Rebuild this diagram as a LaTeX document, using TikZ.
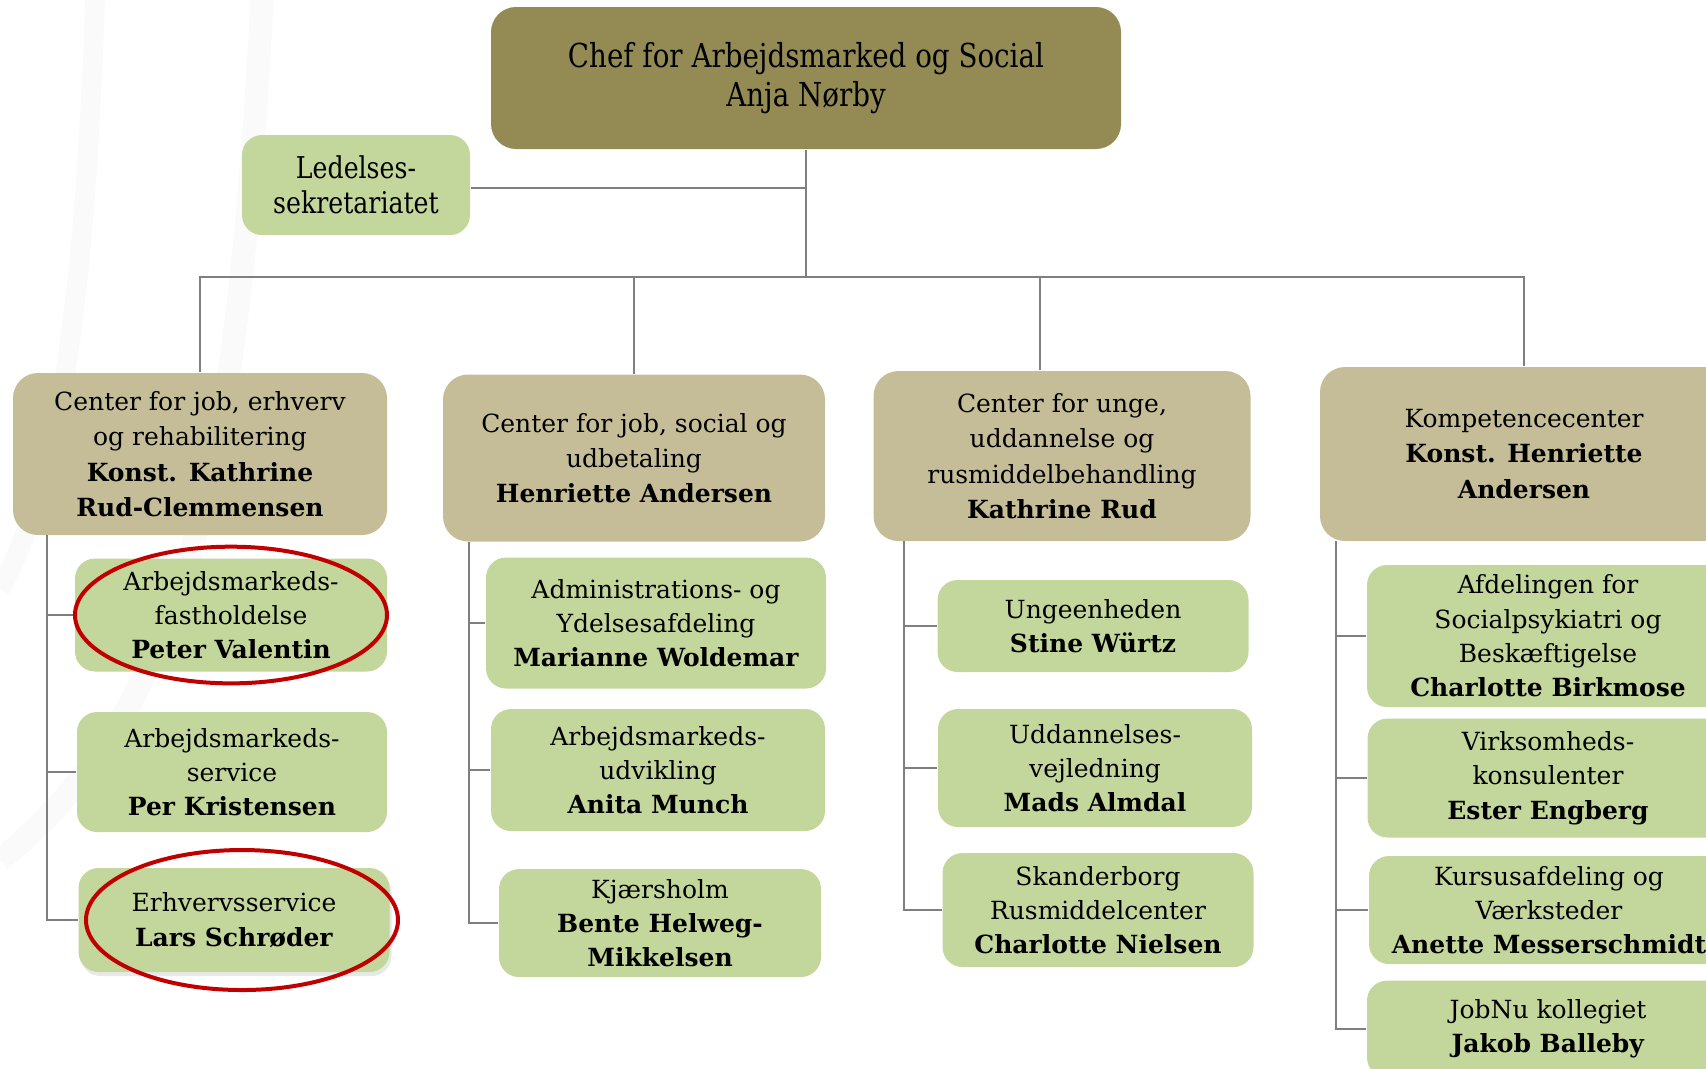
\documentclass[tikz,border=0pt]{standalone}
\usepackage{fontspec}
\setmainfont{DejaVu Serif}
\newfontfamily\chieffont{DejaVu Serif}[FakeStretch=0.84]
\usetikzlibrary{positioning,shadows}
\definecolor{chiefcol}{HTML}{948A54}
\definecolor{deptcol}{HTML}{C4BD97}
\definecolor{unitcol}{HTML}{C3D69B}
\definecolor{linecol}{HTML}{7F7F7F}
\definecolor{ringred}{HTML}{C00000}
\begin{document}
\begin{tikzpicture}[x=0.3pt, y=-0.3pt,
        chief/.style={rectangle, rounded corners=7.5pt, fill=chiefcol, align=center, inner sep=1pt, font=\chieffont\fontsize{9.9}{11.9}\selectfont},
        secr/.style={rectangle, rounded corners=6pt, fill=unitcol, align=center, inner sep=1pt, font=\chieffont\fontsize{9}{10.6}\selectfont},
        dept/.style={rectangle, rounded corners=7.5pt, fill=deptcol, align=center, inner sep=1pt, font=\fontsize{7.5}{10.6}\selectfont},
        unit/.style={rectangle, rounded corners=6pt, fill=unitcol, align=center, inner sep=1pt, font=\fontsize{7.5}{10.3}\selectfont},
        link/.style={draw=linecol, line width=0.6pt},
        ring/.style={draw=ringred, line width=1.2pt}]

        \useasboundingbox (0,0) rectangle (1706,1068);
        \clip (0,0) rectangle (1706,1068);

        % faint background marks
        \draw[gray!4, line width=6pt] (95,0) .. controls (85,300) and (60,480) .. (0,590);
        \draw[gray!4, line width=7pt] (262,0) .. controls (240,420) and (200,700) .. (0,860);

        % Top
        \node[chief, minimum width=189pt, minimum height=42.6pt] (chef) at (806,78) {Chef for Arbejdsmarked og Social\\Anja Nørby};
        \node[secr, minimum width=68.4pt, minimum height=30pt] (sekr) at (356,185) {Ledelses-\\sekretariatet};

        % Centres
        \node[dept, minimum width=112.2pt, minimum height=48.6pt] (job) at (200,454) {Center for job, erhverv\\og rehabilitering\\\textbf{Konst. Kathrine}\\\textbf{Rud-Clemmensen}};
        \node[dept, minimum width=114.6pt, minimum height=50.1pt] (social) at (634,458) {Center for job, social og\\udbetaling\\\textbf{Henriette Andersen}};
        \node[dept, minimum width=113.1pt, minimum height=51pt] (unge) at (1062,456) {Center for unge,\\uddannelse og\\rusmiddelbehandling\\\textbf{Kathrine Rud}};
        \node[dept, minimum width=122.4pt, minimum height=52.2pt] (komp) at (1524,454) {Kompetencecenter\\\textbf{Konst. Henriette}\\\textbf{Andersen}};

        % Units under job, erhverv og rehabilitering
        \node[unit, minimum width=93.6pt, minimum height=33.9pt] (fast) at (231,615) {Arbejdsmarkeds-\\fastholdelse\\\textbf{Peter Valentin}};
        \node[unit, minimum width=93pt, minimum height=36pt] (amservice) at (232,772) {Arbejdsmarkeds-\\service\\\textbf{Per Kristensen}};
        \node[unit, minimum width=93.3pt, minimum height=31.2pt, drop shadow={opacity=0.18, shadow xshift=0.6pt, shadow yshift=-1.2pt}] (erhverv) at (234,920) {Erhvervsservice\\\textbf{Lars Schrøder}};

        % Units under job, social og udbetaling
        \node[unit, minimum width=102pt, minimum height=39.3pt] (adm) at (656,623) {Administrations- og\\Ydelsesafdeling\\\textbf{Marianne Woldemar}};
        \node[unit, minimum width=100.2pt, minimum height=36.6pt] (udv) at (658,770) {Arbejdsmarkeds-\\udvikling\\\textbf{Anita Munch}};
        \node[unit, minimum width=96.6pt, minimum height=32.4pt] (kjaer) at (660,923) {Kjærsholm\\\textbf{Bente Helweg-}\\\textbf{Mikkelsen}};

        % Units under unge
        \node[unit, minimum width=93.3pt, minimum height=27.6pt] (ungeenh) at (1093,626) {Ungeenheden\\\textbf{Stine Würtz}};
        \node[unit, minimum width=94.2pt, minimum height=35.4pt] (vejl) at (1095,768) {Uddannelses-\\vejledning\\\textbf{Mads Almdal}};
        \node[unit, minimum width=93.3pt, minimum height=34.2pt] (rus) at (1098,910) {Skanderborg\\Rusmiddelcenter\\\textbf{Charlotte Nielsen}};

        % Units under Kompetencecenter
        \node[unit, minimum width=108.6pt, minimum height=42.6pt] (psyk) at (1548,636) {Afdelingen for\\Socialpsykiatri og\\Beskæftigelse\\\textbf{Charlotte Birkmose}};
        \node[unit, minimum width=108.3pt, minimum height=35.7pt] (virk) at (1548,778) {Virksomheds-\\konsulenter\\\textbf{Ester Engberg}};
        \node[unit, minimum width=108pt, minimum height=32.4pt] (kursus) at (1549,910) {Kursusafdeling og\\Værksteder\\\textbf{Anette Messerschmidt}};
        \node[unit, minimum width=108.6pt, minimum height=29pt] (jobnu) at (1548,1029) {JobNu kollegiet\\\textbf{Jakob Balleby}};

        % Lines
        \coordinate (bus) at (0,277);
        \draw[link] (chef.south) -- (chef.south |- bus);
        \draw[link] ([yshift=-1pt]sekr.east) -- ([yshift=-1pt]sekr.east -| chef.south);
        \draw[link] (job.north) -- (job.north |- bus) -- (komp.north |- bus) -- (komp.north);
        \draw[link] (social.north) -- (social.north |- bus);
        \draw[link] ([xshift=-6.6pt]unge.north) -- ([xshift=-6.6pt]unge.north |- bus);

        \coordinate (t1) at (47,535);
        \coordinate (t2) at (469,542);
        \coordinate (t3) at (904,541);
        \coordinate (t4) at (1336,541);
        \draw[link] (t1) |- (erhverv.west);
        \draw[link] (fast.west) -- (fast.west -| t1);
        \draw[link] (amservice.west) -- (amservice.west -| t1);
        \draw[link] (t2) |- (kjaer.west);
        \draw[link] (adm.west) -- (adm.west -| t2);
        \draw[link] (udv.west) -- (udv.west -| t2);
        \draw[link] (t3) |- (rus.west);
        \draw[link] (ungeenh.west) -- (ungeenh.west -| t3);
        \draw[link] (vejl.west) -- (vejl.west -| t3);
        \draw[link] (t4) |- (jobnu.west);
        \draw[link] (psyk.west) -- (psyk.west -| t4);
        \draw[link] (virk.west) -- (virk.west -| t4);
        \draw[link] (kursus.west) -- (kursus.west -| t4);

        % Red rings
        \draw[ring] (fast.center) ellipse (46.8pt and 20.5pt);
        \draw[ring] ([xshift=2.4pt]erhverv.center) ellipse (46.8pt and 21pt);

    \end{tikzpicture}
\end{document}
